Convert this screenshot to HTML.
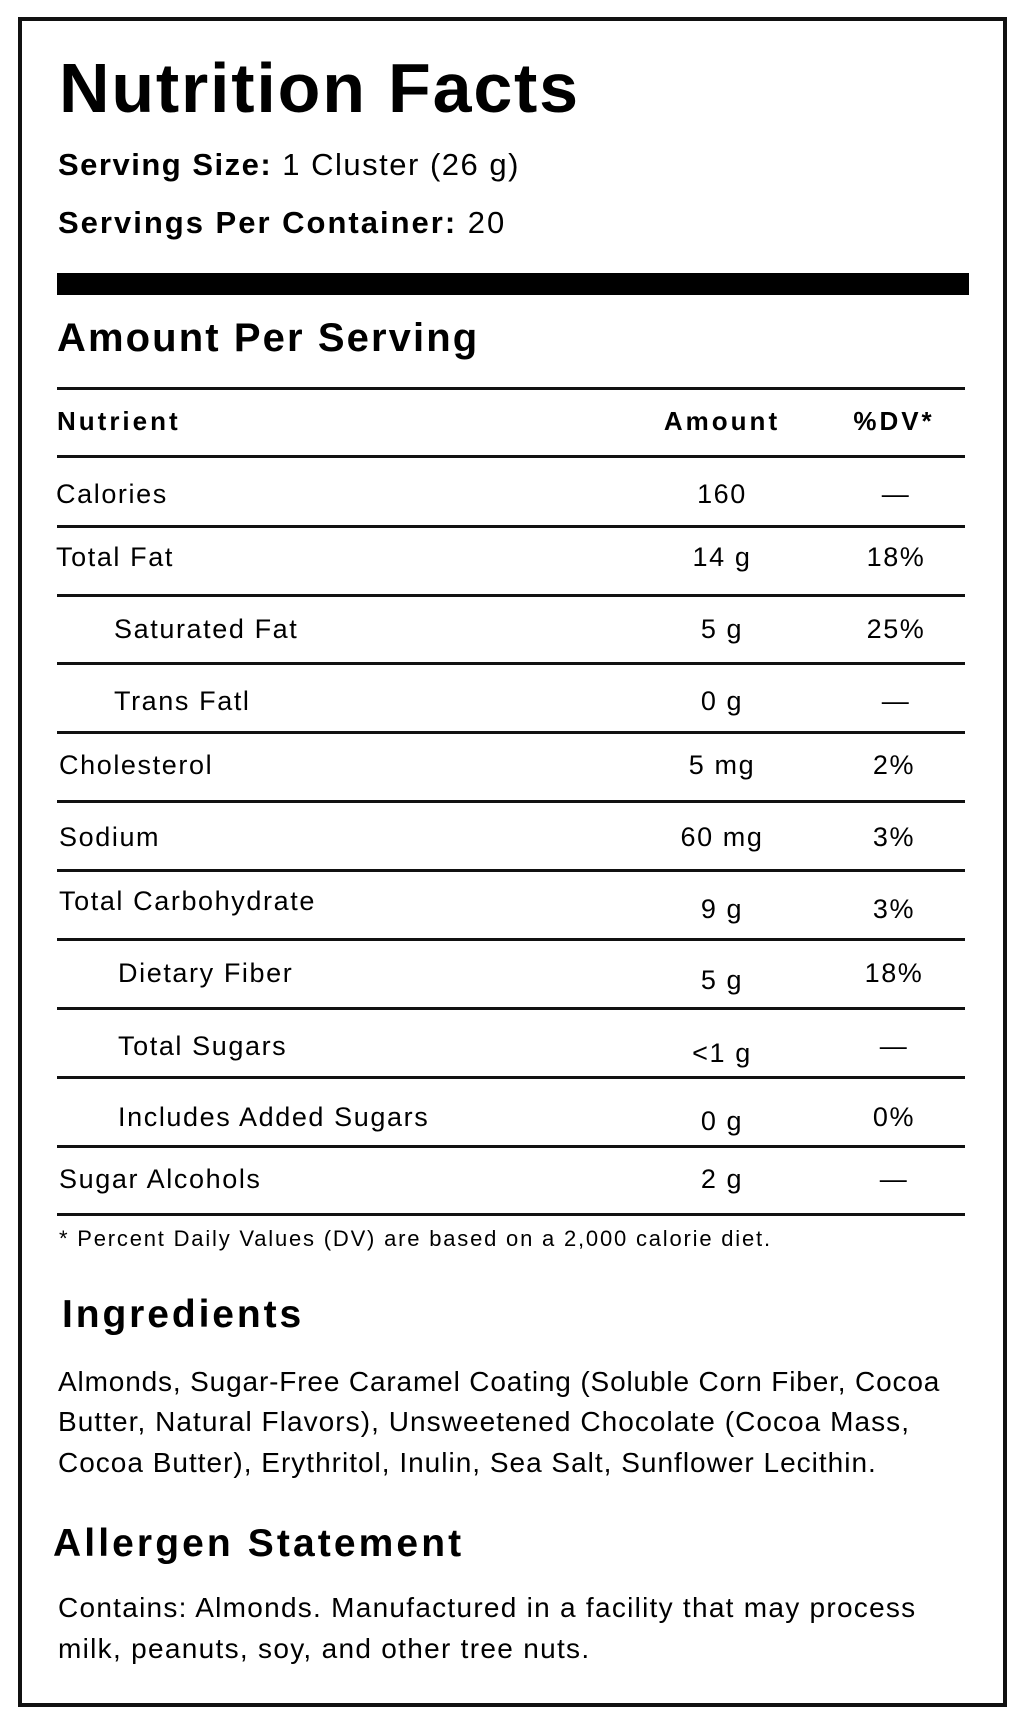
<!DOCTYPE html>
<html><head><meta charset="utf-8"><style>
html,body{margin:0;padding:0;background:#fff;}
body{width:1024px;height:1720px;position:relative;overflow:hidden;font-family:"Liberation Sans",sans-serif;color:#000;}
.b{position:absolute;left:18px;top:17px;width:981px;height:1682px;border:4px solid #111;}
.t{position:absolute;white-space:nowrap;line-height:40px;height:40px;}
.c{transform:translateX(-50%);}
.hl{position:absolute;left:57px;width:908px;height:3px;background:#111;}
.r{font-size:27px;letter-spacing:1.6px;}
.h{font-weight:bold;font-size:26px;letter-spacing:3px;}
.p{font-size:28px;letter-spacing:1px;}
</style></head><body>
<div class="b"></div>
<div class="t" style="left:59px;top:53px;font-size:70px;font-weight:bold;line-height:70px;height:70px;letter-spacing:1.8px;">Nutrition Facts</div>
<div class="t" style="left:58px;top:145px;font-size:31px;letter-spacing:1.5px;"><b>Serving Size:</b> 1 Cluster (26 g)</div>
<div class="t" style="left:58px;top:203px;font-size:31px;letter-spacing:2px;"><b>Servings Per Container:</b> 20</div>
<div style="position:absolute;left:57px;top:273px;width:912px;height:22px;background:#000;"></div>
<div class="t" style="left:57px;top:316px;font-size:40px;font-weight:bold;line-height:44px;height:44px;letter-spacing:2.1px;">Amount Per Serving</div>
<div class="hl" style="top:387px"></div>
<div class="t h" style="left:57px;top:401px;">Nutrient</div>
<div class="t h c" style="left:722px;top:401px;">Amount</div>
<div class="t h c" style="left:894px;top:401px;">%DV*</div>
<div class="hl" style="top:455px"></div>
<div class="t r" style="left:56px;top:474px;">Calories</div><div class="t r c" style="left:722px;top:474px;">160</div><div class="t r c" style="left:896px;top:474px;">—</div>
<div class="hl" style="top:525px"></div>
<div class="t r" style="left:56px;top:537px;">Total Fat</div><div class="t r c" style="left:722px;top:537px;">14 g</div><div class="t r c" style="left:896px;top:537px;">18%</div>
<div class="hl" style="top:594px"></div>
<div class="t r" style="left:114px;top:609px;">Saturated Fat</div><div class="t r c" style="left:722px;top:609px;">5 g</div><div class="t r c" style="left:896px;top:609px;">25%</div>
<div class="hl" style="top:662px"></div>
<div class="t r" style="left:114px;top:681px;">Trans Fatl</div><div class="t r c" style="left:722px;top:681px;">0 g</div><div class="t r c" style="left:896px;top:681px;">—</div>
<div class="hl" style="top:731px"></div>
<div class="t r" style="left:59px;top:745px;">Cholesterol</div><div class="t r c" style="left:722px;top:745px;">5 mg</div><div class="t r c" style="left:894px;top:745px;">2%</div>
<div class="hl" style="top:800px"></div>
<div class="t r" style="left:59px;top:817px;">Sodium</div><div class="t r c" style="left:722px;top:817px;">60 mg</div><div class="t r c" style="left:894px;top:817px;">3%</div>
<div class="hl" style="top:869px"></div>
<div class="t r" style="left:59px;top:881px;">Total Carbohydrate</div><div class="t r c" style="left:722px;top:889px;">9 g</div><div class="t r c" style="left:894px;top:889px;">3%</div>
<div class="hl" style="top:938px"></div>
<div class="t r" style="left:118px;top:953px;">Dietary Fiber</div><div class="t r c" style="left:722px;top:960px;">5 g</div><div class="t r c" style="left:894px;top:953px;">18%</div>
<div class="hl" style="top:1007px"></div>
<div class="t r" style="left:118px;top:1026px;">Total Sugars</div><div class="t r c" style="left:722px;top:1033px;">&lt;1 g</div><div class="t r c" style="left:894px;top:1026px;">—</div>
<div class="hl" style="top:1076px"></div>
<div class="t r" style="left:118px;top:1097px;">Includes Added Sugars</div><div class="t r c" style="left:722px;top:1101px;">0 g</div><div class="t r c" style="left:894px;top:1097px;">0%</div>
<div class="hl" style="top:1145px"></div>
<div class="t r" style="left:59px;top:1159px;">Sugar Alcohols</div><div class="t r c" style="left:722px;top:1159px;">2 g</div><div class="t r c" style="left:894px;top:1159px;">—</div>
<div class="hl" style="top:1213px"></div>
<div class="t" style="left:59px;top:1219px;font-size:22px;letter-spacing:1.8px;">* Percent Daily Values (DV) are based on a 2,000 calorie diet.</div>
<div class="t" style="left:62px;top:1293px;font-size:39px;font-weight:bold;line-height:44px;height:44px;letter-spacing:2.9px;">Ingredients</div>
<div class="t p" style="left:58px;top:1362px;letter-spacing:0.85px;">Almonds, Sugar-Free Caramel Coating (Soluble Corn Fiber, Cocoa</div>
<div class="t p" style="left:58px;top:1402px;letter-spacing:1.05px;">Butter, Natural Flavors), Unsweetened Chocolate (Cocoa Mass,</div>
<div class="t p" style="left:58px;top:1443px;">Cocoa Butter), Erythritol, Inulin, Sea Salt, Sunflower Lecithin.</div>
<div class="t" style="left:53px;top:1522px;font-size:39px;font-weight:bold;line-height:44px;height:44px;letter-spacing:3.1px;">Allergen Statement</div>
<div class="t p" style="left:58px;top:1588px;letter-spacing:1.27px;">Contains: Almonds. Manufactured in a facility that may process</div>
<div class="t p" style="left:58px;top:1629px;letter-spacing:1.3px;">milk, peanuts, soy, and other tree nuts.</div>
</body></html>
